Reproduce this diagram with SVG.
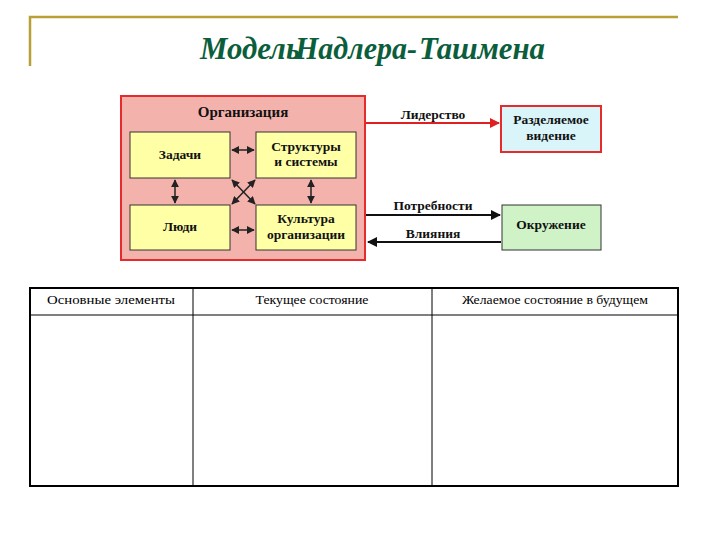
<svg xmlns="http://www.w3.org/2000/svg" width="720" height="540" viewBox="0 0 720 540">
<defs>
<style>
.title{font-family:"Liberation Serif","DejaVu Serif",serif;font-style:italic;font-weight:bold;font-size:31px;fill:#0b5e3c}
.lbl{font-family:"Liberation Serif","DejaVu Serif",serif;font-weight:bold;font-size:13.5px;fill:#111;text-anchor:middle}
.th{font-family:"Liberation Serif","DejaVu Serif",serif;font-size:12.5px;fill:#000;text-anchor:middle}
.ybox{fill:#ffffa6;stroke:#333;stroke-width:1}
.conn{stroke:#222;stroke-width:1.5;fill:none}
</style>
<marker id="ah" viewBox="0 0 10 10" refX="9" refY="5" markerWidth="8" markerHeight="8" orient="auto-start-reverse" markerUnits="userSpaceOnUse"><path d="M0,0 L10,5 L0,10 z" fill="#222"/></marker>
<marker id="ahb" viewBox="0 0 10 10" refX="9" refY="5" markerWidth="10" markerHeight="10" orient="auto-start-reverse" markerUnits="userSpaceOnUse"><path d="M0,0 L10,5 L0,10 z" fill="#111"/></marker>
<marker id="ahr" viewBox="0 0 10 10" refX="9" refY="5" markerWidth="10" markerHeight="10" orient="auto" markerUnits="userSpaceOnUse"><path d="M0,0 L10,5 L0,10 z" fill="#e02020"/></marker>
</defs>
<rect width="720" height="540" fill="#fff"/>
<g id="frame">
<path d="M30,66 V17 H678" fill="none" stroke="#b8a035" stroke-width="2.5"/>
</g>
<g id="title">
<text class="title" x="200" y="59" textLength="100" lengthAdjust="spacingAndGlyphs">Модель</text>
<text class="title" x="295" y="59" textLength="122" lengthAdjust="spacingAndGlyphs">Надлера-</text>
<text class="title" x="419" y="59" textLength="126" lengthAdjust="spacingAndGlyphs">Ташмена</text>
</g>
<g id="organization">
<rect x="121" y="96" width="244" height="164" fill="#f4b2ad" stroke="#e52b2b" stroke-width="2"/>
<text class="lbl" x="243" y="117" style="font-size:15px">Организация</text>
</g>
<g id="tasks"><rect class="ybox" x="130" y="132" width="100" height="46"/><text class="lbl" x="180" y="159">Задачи</text></g>
<g id="structures"><rect class="ybox" x="256" y="132" width="100" height="46"/><text class="lbl" x="306" y="151">Структуры</text><text class="lbl" x="306" y="166">и системы</text></g>
<g id="people"><rect class="ybox" x="130" y="205" width="100" height="45"/><text class="lbl" x="180" y="231">Люди</text></g>
<g id="culture"><rect class="ybox" x="256" y="205" width="100" height="45"/><text class="lbl" x="306" y="223">Культура</text><text class="lbl" x="306" y="239">организации</text></g>
<g id="vision"><rect x="501" y="106" width="100" height="46" fill="#d9f5fa" stroke="#e52b2b" stroke-width="2"/><text class="lbl" x="551" y="124">Разделяемое</text><text class="lbl" x="551" y="140">видение</text></g>
<g id="environment"><rect x="502" y="205" width="99" height="45" fill="#cff2c6" stroke="#333" stroke-width="1"/><text class="lbl" x="551" y="229">Окружение</text></g>
<g id="connectors">
<line class="conn" x1="232" y1="150" x2="254" y2="150" marker-start="url(#ah)" marker-end="url(#ah)"/>
<line class="conn" x1="232" y1="230" x2="254" y2="230" marker-start="url(#ah)" marker-end="url(#ah)"/>
<line class="conn" x1="175" y1="180" x2="175" y2="203" marker-start="url(#ah)" marker-end="url(#ah)"/>
<line class="conn" x1="311" y1="180" x2="311" y2="203" marker-start="url(#ah)" marker-end="url(#ah)"/>
<line class="conn" x1="232" y1="180" x2="255" y2="204" marker-start="url(#ah)" marker-end="url(#ah)"/>
<line class="conn" x1="255" y1="180" x2="232" y2="204" marker-start="url(#ah)" marker-end="url(#ah)"/>
<line x1="366" y1="123" x2="499" y2="123" stroke="#e02020" stroke-width="2" marker-end="url(#ahr)"/>
<line x1="366" y1="215" x2="500" y2="215" stroke="#111" stroke-width="2" marker-end="url(#ahb)"/>
<line x1="501" y1="242" x2="368" y2="242" stroke="#111" stroke-width="2" marker-end="url(#ahb)"/>
<text class="lbl" x="433" y="119">Лидерство</text>
<text class="lbl" x="433" y="210">Потребности</text>
<text class="lbl" x="433" y="238">Влияния</text>
</g>
<g id="table">
<rect x="30" y="288" width="648" height="198" fill="none" stroke="#000" stroke-width="2"/>
<line x1="30" y1="315" x2="678" y2="315" stroke="#000" stroke-width="1"/>
<line x1="193" y1="288" x2="193" y2="486" stroke="#000" stroke-width="1"/>
<line x1="432" y1="288" x2="432" y2="486" stroke="#000" stroke-width="1"/>
<text class="th" x="111" y="304" textLength="128" lengthAdjust="spacingAndGlyphs">Основные элементы</text>
<text class="th" x="312" y="304" textLength="113" lengthAdjust="spacingAndGlyphs">Текущее состояние</text>
<text class="th" x="555" y="304" textLength="186" lengthAdjust="spacingAndGlyphs">Желаемое состояние в будущем</text>
</g>
</svg>
